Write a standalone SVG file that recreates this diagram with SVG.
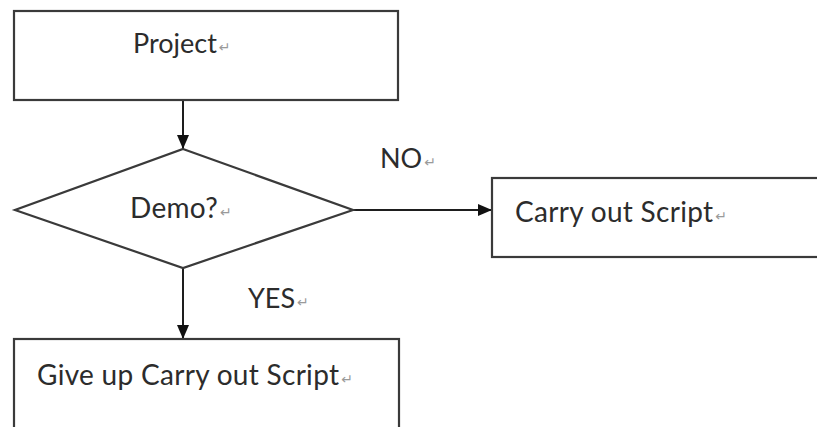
<svg xmlns="http://www.w3.org/2000/svg" width="817" height="427" viewBox="0 0 817 427">
<defs>
<style>
.box{fill:#fff;stroke:#3a3a3a;stroke-width:2.2}
.ln{fill:none;stroke:#1e1e1e;stroke-width:2}
.t{font-family:Lato,"Liberation Sans",sans-serif;font-size:27px;fill:#2c2c2c}
.w{font-size:28px;letter-spacing:0.3px}
.r{font-family:"DejaVu Sans",sans-serif;font-size:14px;fill:#9a9a9a;letter-spacing:0}
</style>
<marker id="ah" viewBox="0 0 14 12" refX="14" refY="6" markerWidth="14" markerHeight="12" markerUnits="userSpaceOnUse" orient="auto">
<path d="M0,0 L14,6 L0,12 Z" fill="#111"/>
</marker>
</defs>
<rect width="817" height="427" fill="#fff"/>
<g id="connectors">
<line class="ln" x1="183" y1="100" x2="183" y2="149" marker-end="url(#ah)"/>
<line class="ln" x1="353" y1="210" x2="492" y2="210" marker-end="url(#ah)"/>
<line class="ln" x1="183" y1="268" x2="183" y2="339" marker-end="url(#ah)"/>
<text class="t" x="380" y="168">NO<tspan class="r" dx="2" dy="-1">↵</tspan></text>
<text class="t" x="248" y="308">YES<tspan class="r" dx="2" dy="-1">↵</tspan></text>
</g>
<g id="project">
<rect class="box" x="14" y="11" width="384" height="89"/>
<text class="t" x="133" y="53">Project<tspan class="r" dx="2" dy="-1">↵</tspan></text>
</g>
<g id="demo">
<polygon class="box" points="183,149 353,210 183,268 15,210"/>
<text class="t w" x="130" y="218">Demo?<tspan class="r" dx="2" dy="-1">↵</tspan></text>
</g>
<g id="carry">
<rect class="box" x="492" y="178" width="340" height="79"/>
<text class="t w" x="515" y="222">Carry out Script<tspan class="r" dx="2" dy="-1">↵</tspan></text>
</g>
<g id="giveup">
<rect class="box" x="14" y="339" width="385" height="100"/>
<text class="t w" x="37" y="385">Give up Carry out Script<tspan class="r" dx="2" dy="-1">↵</tspan></text>
</g>
</svg>
